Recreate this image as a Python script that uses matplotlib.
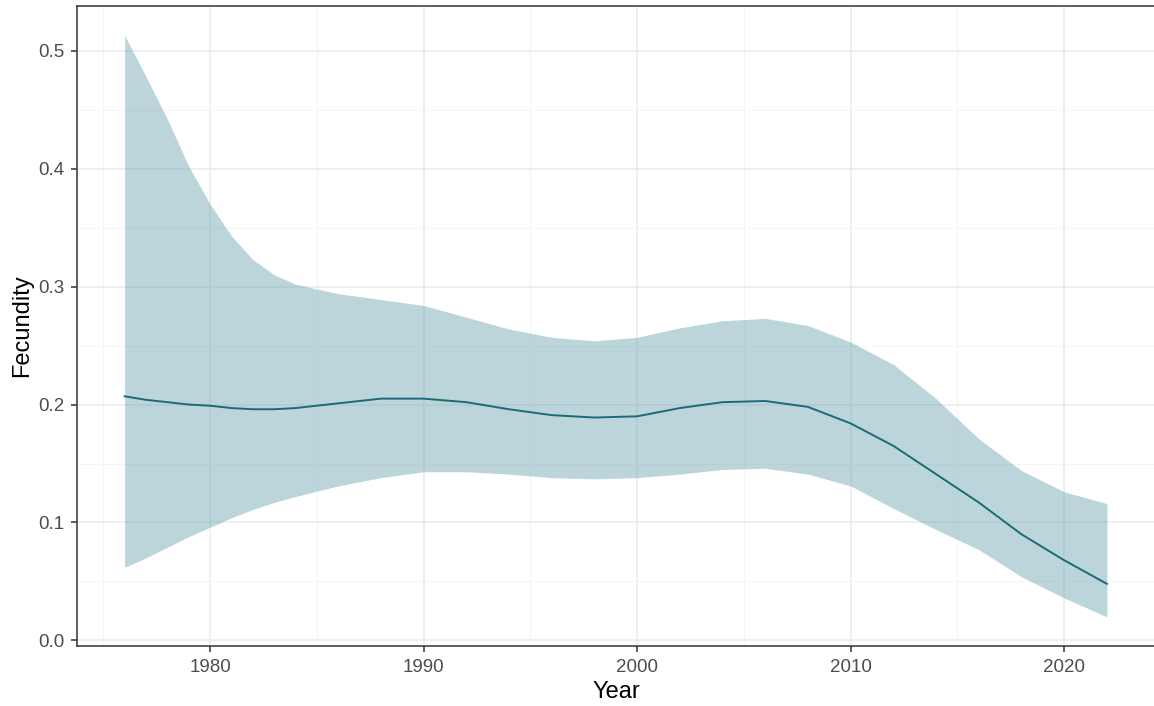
import numpy as np
import matplotlib.pyplot as plt
from matplotlib.ticker import MultipleLocator, FormatStrFormatter

plt.rcParams['font.family'] = ['Liberation Sans', 'DejaVu Sans']

# values (smoothed trend with confidence band)
years = [1976, 1977, 1978, 1979, 1980, 1981, 1982, 1983, 1984, 1986, 1988, 1990,
         1992, 1994, 1996, 1998, 2000, 2002, 2004, 2006, 2008, 2010, 2012, 2014,
         2016, 2018, 2020, 2022]
fit = [0.207, 0.204, 0.202, 0.200, 0.199, 0.197, 0.196, 0.196, 0.197, 0.201,
       0.205, 0.205, 0.202, 0.196, 0.191, 0.189, 0.190, 0.197, 0.202, 0.203,
       0.198, 0.184, 0.165, 0.141, 0.117, 0.090, 0.068, 0.048]
upper = [0.513, 0.478, 0.442, 0.402, 0.370, 0.343, 0.323, 0.310, 0.302, 0.294,
         0.289, 0.284, 0.274, 0.264, 0.257, 0.254, 0.257, 0.265, 0.271, 0.273,
         0.267, 0.253, 0.234, 0.205, 0.171, 0.144, 0.126, 0.116]
lower = [0.062, 0.070, 0.079, 0.088, 0.096, 0.104, 0.111, 0.117, 0.122, 0.131,
         0.138, 0.143, 0.143, 0.141, 0.138, 0.137, 0.138, 0.141, 0.145, 0.146,
         0.141, 0.131, 0.112, 0.094, 0.077, 0.054, 0.036, 0.020]

W, H = 1154, 706
fig = plt.figure(figsize=(W / 100, H / 100), dpi=100)
ax = fig.add_axes([77 / W, (H - 646) / H, (1156 - 77) / W, (646 - 5.7) / H])

ax.fill_between(years, lower, upper, color='#5598A7', alpha=0.4, lw=0, zorder=2)
ax.plot(years, fit, color='#1B6B76', lw=1.4, zorder=3)

ax.set_xlim(1973.77, 2024.3)
ax.set_ylim(-0.0047, 0.5381)
ax.xaxis.set_major_locator(MultipleLocator(10))
ax.xaxis.set_minor_locator(MultipleLocator(5))
ax.yaxis.set_major_locator(MultipleLocator(0.1))
ax.yaxis.set_minor_locator(MultipleLocator(0.05))
ax.yaxis.set_major_formatter(FormatStrFormatter('%.1f'))

ax.grid(which='major', color='#EBEBEB', lw=1.1, zorder=0)
ax.grid(which='minor', color='#F4F4F4', lw=0.6, zorder=0)
ax.set_axisbelow(True)

for sp in ax.spines.values():
    sp.set_color('#333333')
    sp.set_linewidth(1.1)

ax.tick_params(which='major', length=4.5, width=1.1, color='#333333',
               labelcolor='#4D4D4D', labelsize=13.5, pad=4.5)
ax.tick_params(which='minor', length=0)

ax.set_xlabel('Year', fontsize=17, color='black', va='center')
ax.set_ylabel('Fecundity', fontsize=17, color='black', va='center')
ax.xaxis.set_label_coords(0.5, -0.0718)
ax.yaxis.set_label_coords(-0.051, 0.5)

fig.savefig('out.png', dpi=100)
